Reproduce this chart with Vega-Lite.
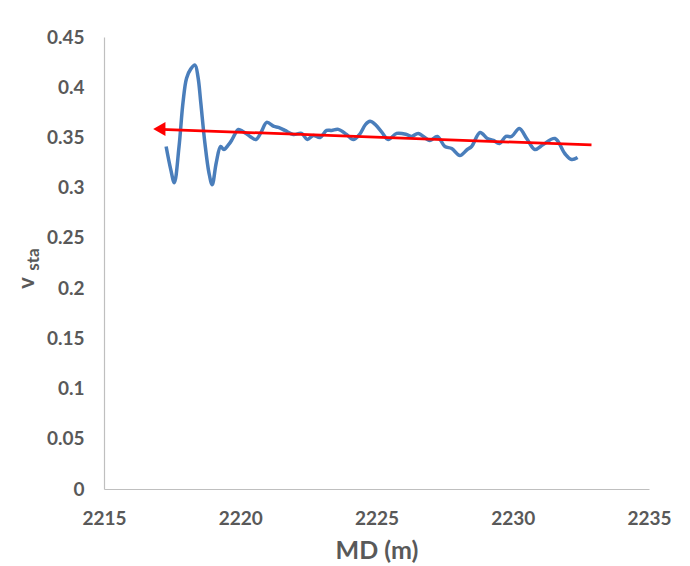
{
  "$schema": "https://vega.github.io/schema/vega-lite/v6.json",
  "width": 545,
  "height": 452,
  "autosize": {"type": "none"},
  "padding": {"left": 104, "top": 37, "right": 41, "bottom": 77},
  "background": "white",
  "title": {
    "text": "v",
    "orient": "left",
    "anchor": "middle",
    "font": "Lato",
    "fontSize": 22,
    "fontWeight": "bold",
    "color": "#595959",
    "offset": -15,
    "dx": -20
  },
  "config": {
    "view": {"stroke": null},
    "axis": {
      "grid": false,
      "ticks": false,
      "tickSize": 0,
      "domainColor": "#bfbfbf",
      "domainWidth": 1.2,
      "labelFont": "Lato",
      "labelFontSize": 19,
      "labelFontWeight": "bold",
      "labelColor": "#595959",
      "labelPadding": 20,
      "labelFlush": false,
      "labelOverlap": false,
      "titleFont": "Lato",
      "titleFontWeight": "bold",
      "titleColor": "#595959"
    }
  },
  "datasets": {
    "blue": [
      {"md": 2217.28, "v": 0.341},
      {"md": 2217.45, "v": 0.318},
      {"md": 2217.58, "v": 0.305},
      {"md": 2217.75, "v": 0.340},
      {"md": 2217.90, "v": 0.385},
      {"md": 2218.03, "v": 0.409},
      {"md": 2218.18, "v": 0.418},
      {"md": 2218.34, "v": 0.422},
      {"md": 2218.45, "v": 0.410},
      {"md": 2218.55, "v": 0.385},
      {"md": 2218.70, "v": 0.345},
      {"md": 2218.85, "v": 0.315},
      {"md": 2218.97, "v": 0.303},
      {"md": 2219.12, "v": 0.325},
      {"md": 2219.28, "v": 0.341},
      {"md": 2219.40, "v": 0.338},
      {"md": 2219.55, "v": 0.342},
      {"md": 2219.68, "v": 0.347},
      {"md": 2219.80, "v": 0.353},
      {"md": 2219.93, "v": 0.358},
      {"md": 2220.10, "v": 0.356},
      {"md": 2220.36, "v": 0.351},
      {"md": 2220.58, "v": 0.348},
      {"md": 2220.78, "v": 0.356},
      {"md": 2220.97, "v": 0.365},
      {"md": 2221.24, "v": 0.361},
      {"md": 2221.40, "v": 0.360},
      {"md": 2221.64, "v": 0.357},
      {"md": 2221.95, "v": 0.353},
      {"md": 2222.25, "v": 0.354},
      {"md": 2222.46, "v": 0.348},
      {"md": 2222.68, "v": 0.352},
      {"md": 2222.93, "v": 0.350},
      {"md": 2223.17, "v": 0.357},
      {"md": 2223.35, "v": 0.357},
      {"md": 2223.60, "v": 0.358},
      {"md": 2223.90, "v": 0.353},
      {"md": 2224.15, "v": 0.348},
      {"md": 2224.38, "v": 0.353},
      {"md": 2224.60, "v": 0.363},
      {"md": 2224.76, "v": 0.366},
      {"md": 2224.95, "v": 0.363},
      {"md": 2225.20, "v": 0.355},
      {"md": 2225.43, "v": 0.348},
      {"md": 2225.74, "v": 0.354},
      {"md": 2226.10, "v": 0.353},
      {"md": 2226.29, "v": 0.351},
      {"md": 2226.53, "v": 0.354},
      {"md": 2226.96, "v": 0.347},
      {"md": 2227.23, "v": 0.351},
      {"md": 2227.51, "v": 0.341},
      {"md": 2227.76, "v": 0.339},
      {"md": 2228.06, "v": 0.332},
      {"md": 2228.33, "v": 0.338},
      {"md": 2228.49, "v": 0.341},
      {"md": 2228.80, "v": 0.355},
      {"md": 2229.07, "v": 0.349},
      {"md": 2229.29, "v": 0.347},
      {"md": 2229.51, "v": 0.344},
      {"md": 2229.75, "v": 0.351},
      {"md": 2229.96, "v": 0.351},
      {"md": 2230.24, "v": 0.359},
      {"md": 2230.51, "v": 0.349},
      {"md": 2230.81, "v": 0.338},
      {"md": 2231.12, "v": 0.343},
      {"md": 2231.55, "v": 0.349},
      {"md": 2231.91, "v": 0.334},
      {"md": 2232.16, "v": 0.328},
      {"md": 2232.38, "v": 0.330}
    ],
    "trend": [
      {"md": 2217.1, "v": 0.3581},
      {"md": 2232.89, "v": 0.3425}
    ],
    "head": [
      {"md": 2217.03, "v": 0.3584}
    ]
  },
  "encoding": {
    "x": {
      "field": "md",
      "type": "quantitative",
      "scale": {"domain": [2215, 2235], "nice": false, "zero": false},
      "axis": {
        "title": "MD (m)",
        "titleFontSize": 25,
        "titlePadding": 10,
        "values": [2215, 2220, 2225, 2230, 2235],
        "format": "d"
      }
    },
    "y": {
      "field": "v",
      "type": "quantitative",
      "scale": {"domain": [0, 0.45], "nice": false},
      "axis": {
        "title": "sta",
        "titleFontSize": 17,
        "titlePadding": 4,
        "titleY": 222,
        "values": [0, 0.05, 0.1, 0.15, 0.2, 0.25, 0.3, 0.35, 0.4, 0.45],
        "format": ".2~f"
      }
    }
  },
  "layer": [
    {
      "data": {"name": "blue"},
      "mark": {"type": "line", "color": "#4a7ebb", "strokeWidth": 3.5, "interpolate": "catmull-rom"}
    },
    {
      "data": {"name": "trend"},
      "mark": {"type": "line", "color": "#ff0000", "strokeWidth": 2.75}
    },
    {
      "data": {"name": "head"},
      "mark": {"type": "point", "shape": "triangle-left", "filled": true, "color": "#ff0000", "opacity": 1, "size": 200}
    }
  ]
}
